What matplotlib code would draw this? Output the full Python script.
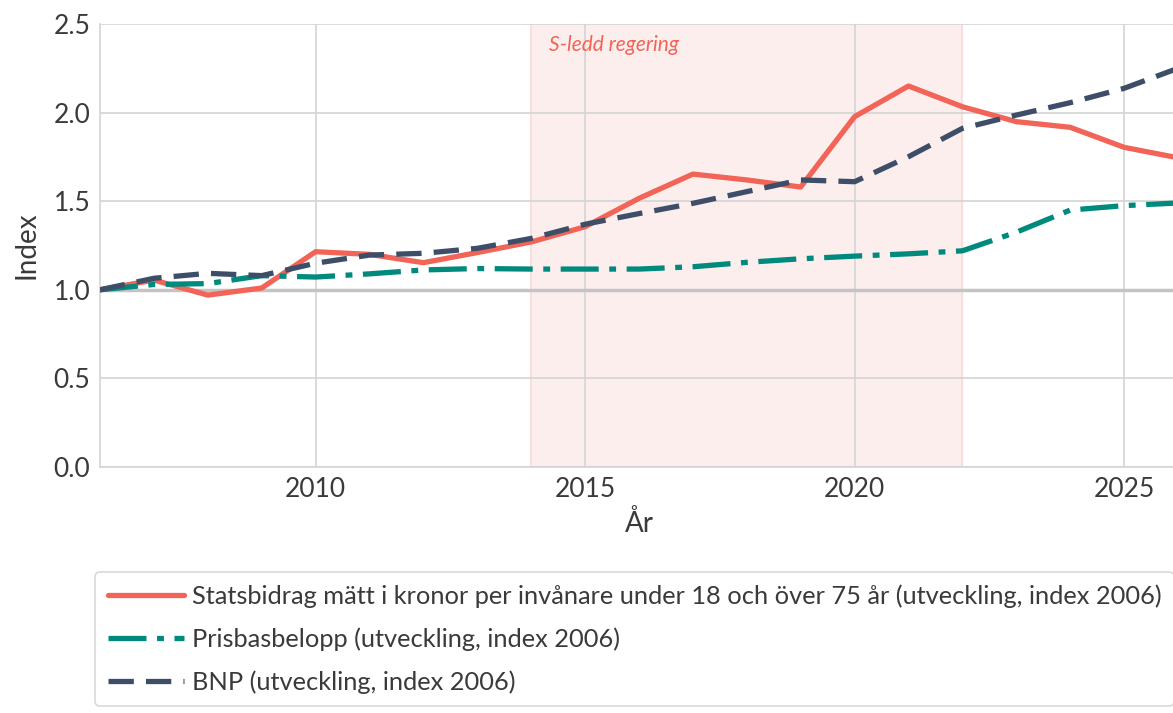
import matplotlib
matplotlib.use("Agg")
import matplotlib.pyplot as plt

years = list(range(2006, 2027))
statsbidrag = [1.00, 1.055, 0.97, 1.01, 1.215, 1.20, 1.153, 1.21, 1.27, 1.356, 1.516, 1.653,
               1.62, 1.58, 1.977, 2.15, 2.033, 1.949, 1.917, 1.804, 1.745]
prisbas = [1.00, 1.03, 1.035, 1.08, 1.072, 1.09, 1.112, 1.12, 1.117, 1.117, 1.117, 1.13,
           1.155, 1.175, 1.19, 1.203, 1.22, 1.325, 1.45, 1.475, 1.49]
bnp = [1.00, 1.065, 1.093, 1.08, 1.15, 1.196, 1.206, 1.234, 1.29, 1.37, 1.43, 1.488,
       1.554, 1.62, 1.61, 1.751, 1.911, 1.986, 2.056, 2.137, 2.25]

labels = ["Statsbidrag mätt i kronor per invånare under 18 och över 75 år (utveckling, index 2006)",
          "Prisbasbelopp (utveckling, index 2006)",
          "BNP (utveckling, index 2006)"]
period = (2014, 2022)
period_label = "S-ledd regering"
yticks = [0.0, 0.5, 1.0, 1.5, 2.0, 2.5]
xticks = [2010, 2015, 2020, 2025]

plt.rcParams['font.family'] = ['Lato', 'DejaVu Sans']
plt.rcParams['font.weight'] = 'normal'

fig = plt.figure(figsize=(11.73, 7.13), dpi=100)
ax = fig.add_axes([100/1173, (713-467)/713, 1078/1173, (467-24)/713])

red = '#f26457'
teal = '#008a7d'
navy = '#3e4e68'
grid_c = '#d4d4d4'
txt = '#3a3a3a'

ax.axvspan(period[0], period[1], color='#fdeeee', zorder=0)
ax.axvline(period[0], color='#fadada', lw=1.2, zorder=0.5)
ax.axvline(period[1], color='#fadada', lw=1.2, zorder=0.5)
ax.text(period[0] + 0.33, 2.38, period_label, color=red, style='italic', fontsize=15,
        va='center', ha='left')

ax.axhline(1.0, color='#c4c4c4', lw=2.5, zorder=1)

lw = 3.8
ax.plot(years, statsbidrag, color=red, lw=lw, label=labels[0], zorder=3,
        solid_capstyle='round')
ax.plot(years, prisbas, color=teal, lw=lw, label=labels[1], zorder=3,
        dashes=(7.2, 2.0, 1.3, 2.0))
ax.plot(years, bnp, color=navy, lw=lw, label=labels[2], zorder=3,
        dashes=(4.8, 2.3))

ax.set_xlim(2006, 2026)
ax.set_ylim(0, 2.5)
ax.set_xticks(xticks)
ax.set_yticks(yticks)
ax.set_yticklabels([f"{v:.1f}" for v in yticks])
ax.grid(True, color=grid_c, lw=1.2, zorder=0.6)
ax.set_axisbelow(True)
for s in ['top', 'right']:
    ax.spines[s].set_visible(False)
for s in ['left', 'bottom']:
    ax.spines[s].set_color(grid_c)
    ax.spines[s].set_linewidth(1.2)
ax.tick_params(axis='both', length=0, labelsize=19, labelcolor=txt, pad=7)
ax.set_xlabel("År", fontsize=20, color=txt, labelpad=6)
ax.set_ylabel("Index", fontsize=20, color=txt, labelpad=10)

leg = fig.legend(loc='upper left', bbox_to_anchor=(95/1173, 1 - 572/713), fontsize=18.3,
                 frameon=True, handlelength=3.0, borderaxespad=0, borderpad=0.5,
                 labelspacing=0.75, handletextpad=0.3)
leg.get_frame().set_edgecolor('#d0d0d0')
leg.get_frame().set_linewidth(1.2)
for t in leg.get_texts():
    t.set_color(txt)

fig.savefig("out.png", dpi=100)
